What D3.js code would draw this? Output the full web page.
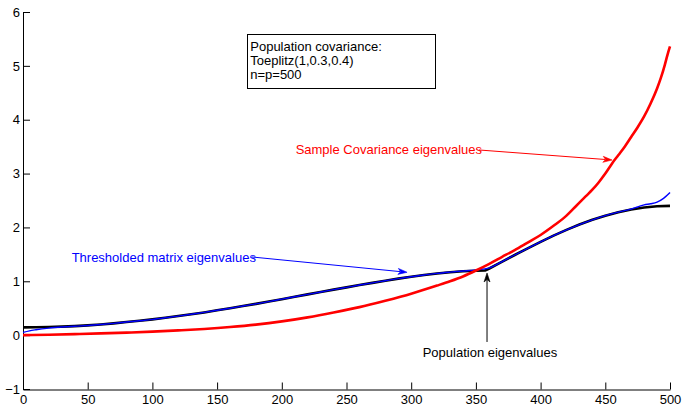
<!DOCTYPE html>
<html>
<head>
<meta charset="utf-8">
<script src="https://cdn.jsdelivr.net/npm/d3@7"></script>
<style>
  html, body { margin: 0; padding: 0; background: #fff; }
  svg { display: block; }
  text { font-family: "Liberation Sans", Arial, Helvetica, sans-serif; }
</style>
</head>
<body>
<svg id="chart" width="683" height="406"></svg>
<script>
// Eigenvalue index (sorted ascending) and eigenvalues for each spectrum
const popIndex = [0,10,20,30,40,50,60,70,80,90,100,110,120,130,140,150,160,170,180,190,200,
  210,220,230,240,250,260,270,280,290,300,310,320,330,340,350,357,360,370,380,390,400,410,420,
  430,440,450,460,470,480,490,500];
const popValues = [0.144,0.146,0.150,0.158,0.168,0.181,0.198,0.219,0.243,0.267,0.292,0.322,0.354,
  0.387,0.422,0.461,0.500,0.540,0.580,0.623,0.668,0.713,0.757,0.800,0.845,0.887,0.930,0.971,1.010,
  1.050,1.085,1.117,1.145,1.168,1.185,1.197,1.200,1.233,1.360,1.488,1.612,1.733,1.847,1.954,2.053,
  2.141,2.218,2.282,2.333,2.370,2.393,2.400];

const threshIndex = [0,5,10,20,30,40,50,60,70,80,90,100,110,120,130,140,150,160,170,180,190,200,
  210,220,230,240,250,260,270,280,290,300,310,320,330,340,350,360,370,380,390,400,410,420,430,440,
  450,460,470,475,480,485,490,495,498,500];
const threshValues = [0.05,0.08,0.10,0.13,0.150,0.165,0.180,0.198,0.219,0.243,0.267,0.292,0.322,
  0.354,0.387,0.422,0.461,0.500,0.540,0.580,0.623,0.668,0.713,0.757,0.800,0.845,0.887,0.930,0.971,
  1.010,1.050,1.085,1.117,1.147,1.170,1.190,1.212,1.245,1.362,1.488,1.612,1.733,1.847,1.954,2.053,
  2.141,2.220,2.285,2.340,2.380,2.420,2.440,2.470,2.540,2.600,2.650];

const sampleIndex = [0,20,40,60,80,100,120,140,160,180,200,220,240,260,280,300,320,330,340,350,
  360,370,380,390,400,410,420,425,430,435,440,445,450,455,460,465,470,475,480,485,490,493,496,498,500];
const sampleValues = [0.00,0.006,0.018,0.032,0.047,0.065,0.088,0.115,0.15,0.195,0.255,0.33,0.42,
  0.52,0.64,0.77,0.92,1.00,1.09,1.20,1.32,1.45,1.58,1.72,1.86,2.03,2.22,2.34,2.46,2.58,2.70,2.84,
  3.00,3.18,3.34,3.50,3.68,3.86,4.06,4.30,4.58,4.78,5.02,5.20,5.36];

const xTicks = [0,50,100,150,200,250,300,350,400,450,500];
const yTicks = [-1,0,1,2,3,4,5,6];

const infoLines = ["Population covariance:", "Toeplitz(1,0.3,0.4)", "n=p=500"];

const svg = d3.select("#chart");
const x = d3.scaleLinear().domain([0, 500]).range([23, 670]);
const y = d3.scaleLinear().domain([-1, 6]).range([389, 12]);

// Axes (MATLAB style: ticks inward, no box)
const xAxis = svg.append("g").attr("transform", "translate(0,389.5)")
  .call(d3.axisBottom(x).tickValues(xTicks).tickSizeInner(-7).tickSizeOuter(0));
const yAxis = svg.append("g").attr("transform", "translate(23,0)")
  .call(d3.axisLeft(y).tickValues(yTicks).tickSizeInner(-7).tickSizeOuter(0).tickPadding(3)
    .tickFormat(d => d < 0 ? "\u2212" + Math.abs(d) : d));
[xAxis, yAxis].forEach(g => {
  g.select(".domain").attr("stroke", "#000").attr("stroke-width", 1);
  g.selectAll(".tick line").attr("stroke", "#000");
  g.selectAll(".tick text").attr("fill", "#000").attr("font-size", 13)
    .attr("font-family", "'Liberation Sans', Arial, Helvetica, sans-serif");
});
xAxis.selectAll(".tick text").attr("dy", null).attr("y", 14);

// Curves
const zip = (a, b) => a.map((v, i) => [v, b[i]]);
const straight = d3.line().x(d => x(d[0])).y(d => y(d[1]));
const smooth = d3.line().x(d => x(d[0])).y(d => y(d[1])).curve(d3.curveMonotoneX);

svg.append("path").datum(zip(popIndex, popValues))
  .attr("fill", "none").attr("stroke", "#000").attr("stroke-width", 2.6)
  .attr("stroke-linejoin", "round").attr("d", straight);
svg.append("path").datum(zip(threshIndex, threshValues))
  .attr("fill", "none").attr("stroke", "#0000ff").attr("stroke-width", 1.4)
  .attr("stroke-linejoin", "round").attr("d", smooth);
svg.append("path").datum(zip(sampleIndex, sampleValues))
  .attr("fill", "none").attr("stroke", "#ff0000").attr("stroke-width", 2.6)
  .attr("stroke-linejoin", "round").attr("d", smooth);

// Info box
const box = { x0: 173.3, x1: 318.4, y0: 5.59, y1: 4.583 };
svg.append("rect")
  .attr("x", Math.round(x(box.x0)) + 0.5).attr("y", Math.round(y(box.y0)) + 0.5)
  .attr("width", Math.round(x(box.x1) - x(box.x0))).attr("height", Math.round(y(box.y1) - y(box.y0)))
  .attr("fill", "#fff").attr("stroke", "#000").attr("stroke-width", 1);
svg.append("g").selectAll("text").data(infoLines).join("text")
  .attr("x", x(box.x0) + 3).attr("y", (d, i) => y(box.y0) + 17 + i * 14)
  .attr("font-size", 13).attr("fill", "#000").text(d => d);

// Annotated arrows
const notes = [
  { text: "Sample Covariance eigenvalues", color: "#ff0000", tx: 210.7, ty: 3.363,
    from: [352.4, 3.438], to: [455.2, 3.252] },
  { text: "Thresholded matrix eigenvalues", color: "#0000ff", tx: 37.6, ty: 1.367,
    from: [177.0, 1.451], to: [296.8, 1.167] },
  { text: "Population eigenvalues", color: "#000", tx: 308.9, ty: -0.397,
    from: [358.6, -0.127], to: [358.6, 1.154] }
];

notes.forEach(n => {
  svg.append("text").attr("x", x(n.tx)).attr("y", y(n.ty))
    .attr("font-size", 13).attr("fill", n.color).text(n.text);
  const x1 = x(n.from[0]), y1 = y(n.from[1]), x2 = x(n.to[0]), y2 = y(n.to[1]);
  const ang = Math.atan2(y2 - y1, x2 - x1);
  const len = 9, half = 3;
  const bx = x2 - len * Math.cos(ang), by = y2 - len * Math.sin(ang);
  svg.append("line").attr("x1", x1).attr("y1", y1).attr("x2", bx + 2 * Math.cos(ang)).attr("y2", by + 2 * Math.sin(ang))
    .attr("stroke", n.color).attr("stroke-width", 1);
  const px = -Math.sin(ang), py = Math.cos(ang);
  const notchX = x2 - (len - 2.5) * Math.cos(ang), notchY = y2 - (len - 2.5) * Math.sin(ang);
  svg.append("path")
    .attr("d", `M${x2},${y2} L${bx + half * px},${by + half * py} L${notchX},${notchY} L${bx - half * px},${by - half * py} Z`)
    .attr("fill", n.color).attr("stroke", n.color).attr("stroke-width", 0.6);
});
</script>
</body>
</html>
